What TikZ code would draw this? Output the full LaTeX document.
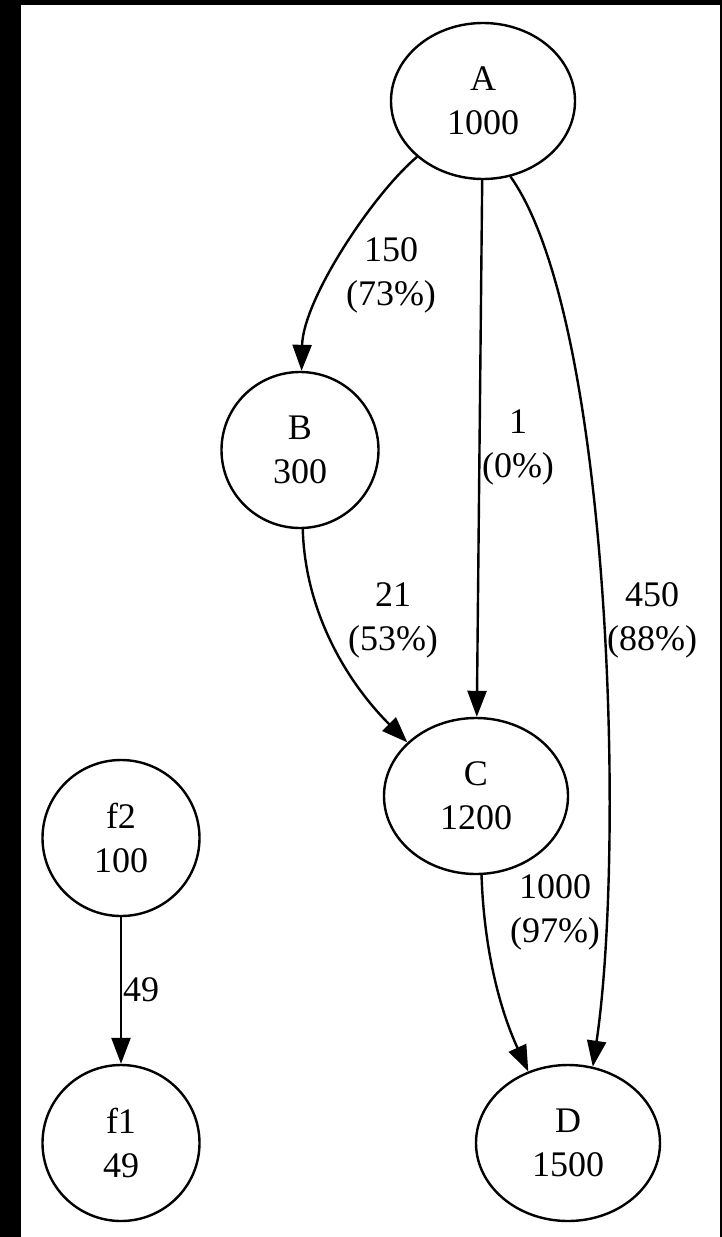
\documentclass[tikz,border=0pt]{standalone}
\usepackage{fontspec}
\setmainfont{Liberation Serif}
\usetikzlibrary{arrows.meta,shapes.geometric}
\tikzset{
  bignode/.style={draw, ellipse, line width=2.4pt, inner sep=0pt, minimum width=184pt, minimum height=156pt, align=center, font=\fontsize{36}{44}\selectfont},
  smallnode/.style={draw, ellipse, line width=2.4pt, inner sep=0pt, minimum width=157pt, minimum height=156pt, align=center, font=\fontsize{36}{44}\selectfont},
  edgelabel/.style={inner sep=0pt, align=center, font=\fontsize{36}{44}\selectfont},
  link/.style={line width=2.4pt, -{Triangle[length=26pt,width=19pt]}}
}
\begin{document}
\begin{tikzpicture}[x=1pt,y=-1pt]
\useasboundingbox (0,0) rectangle (722,1237);
\fill[black] (0,0) rectangle (722,1237);
\fill[white] (21,5) rectangle (720,1237);

\node[bignode] (A) at (483,101) {A\\1000};
\node[smallnode] (B) at (300,450) {B\\300};
\node[bignode] (C) at (476,796) {C\\1200};
\node[bignode] (D) at (568,1143) {D\\1500};
\node[smallnode] (f2) at (121,838) {f2\\100};
\node[smallnode] (f1) at (121,1143) {f1\\49};

\draw[link] (A) .. controls (372,195) and (303,300) .. (B);
\draw[link] (A) -- (C);
\draw[link] (A.-70) .. controls (612,320) and (625,850) .. (D.72);
\draw[link] (B.-88) .. controls (305,610) and (345,680) .. (C.142);
\draw[link] (C.-86) .. controls (484,950) and (500,1010) .. (D.119);
\draw[link] (f2) -- (f1);

\node[edgelabel] (l1) at (391,275) {150\\(73\%)};
\node[edgelabel] (l2) at (518,447) {1\\(0\%)};
\node[edgelabel] (l3) at (652,620) {450\\(88\%)};
\node[edgelabel] (l4) at (393,620) {21\\(53\%)};
\node[edgelabel] (l5) at (555,912) {1000\\(97\%)};
\node[edgelabel] (l6) at (141,990) {49};
\end{tikzpicture}
\end{document}
